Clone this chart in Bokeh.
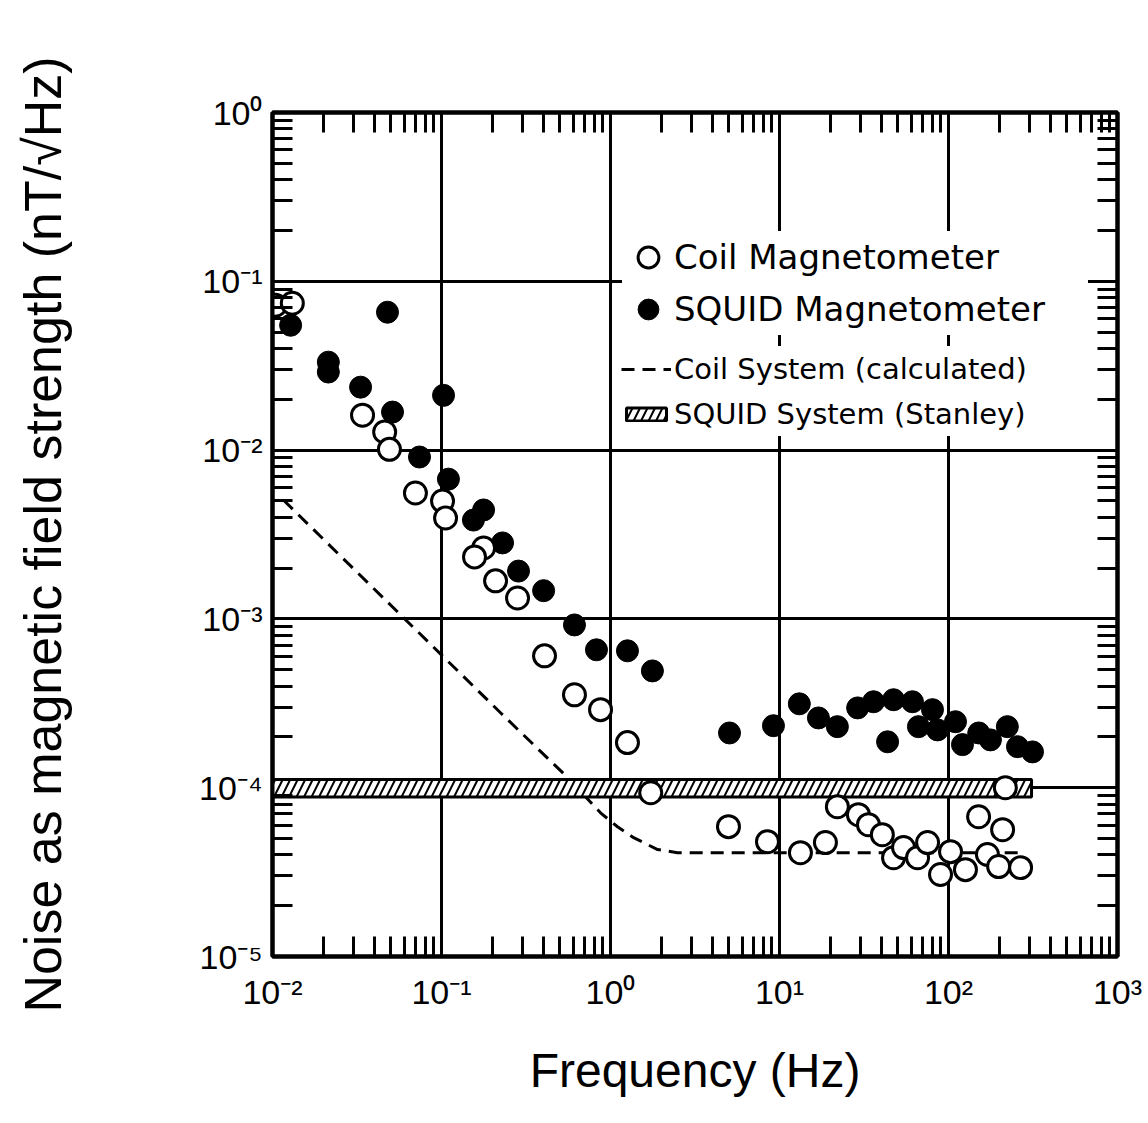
from bokeh.plotting import figure
from bokeh.models import LogAxis, FixedTicker, Legend, LegendItem
from bokeh.embed import file_html
from bokeh.resources import INLINE

# ---- data ----
coil_f = [0.0104, 0.0131, 0.0341, 0.0461, 0.0492, 0.0701, 0.1014, 0.1057, 0.1774, 0.1568,
          0.2089, 0.2818, 0.407, 0.612, 0.873, 1.26, 1.73, 4.99, 8.49, 13.3, 18.7, 22.0,
          29.3, 33.6, 40.6, 47.3, 54.2, 65.6, 75.2, 89.7, 102.8, 126, 150.7, 170, 209,
          217, 198, 267]
coil_v = [0.0722, 0.0741, 0.0161, 0.0128, 0.0101, 0.00557, 0.00499, 0.00396, 0.00263, 0.00233,
          0.00168, 0.00133, 6.04e-4, 3.55e-4, 2.90e-4, 1.85e-4, 9.33e-5, 5.88e-5, 4.79e-5, 4.12e-5,
          4.73e-5, 7.72e-5, 6.92e-5, 6.04e-5, 5.27e-5, 3.85e-5, 4.42e-5, 3.85e-5, 4.73e-5, 3.06e-5,
          4.18e-5, 3.27e-5, 6.73e-5, 4.02e-5, 5.64e-5, 1.0e-4, 3.41e-5, 3.36e-5]

squid_f = [0.0128, 0.0214, 0.0214, 0.0479, 0.0332, 0.1028, 0.0513, 0.0741, 0.1099, 0.1545,
           0.1774, 0.2297, 0.2855, 0.402, 0.612, 0.826, 1.26, 1.77, 5.06, 9.21, 13.1, 17.0,
           22.0, 29.0, 36.0, 47.3, 61.2, 80.4, 43.6, 66.4, 86.1, 110, 121, 151, 177, 223,
           256, 314]
squid_v = [0.0549, 0.0332, 0.0290, 0.0656, 0.0236, 0.0211, 0.0168, 0.0091, 0.00673, 0.00385,
           0.00442, 0.00282, 0.00192, 0.00147, 9.21e-4, 6.56e-4, 6.47e-4, 4.92e-4, 2.11e-4, 2.33e-4,
           3.14e-4, 2.59e-4, 2.30e-4, 2.97e-4, 3.23e-4, 3.32e-4, 3.23e-4, 2.90e-4, 1.87e-4, 2.30e-4,
           2.20e-4, 2.46e-4, 1.80e-4, 2.11e-4, 1.92e-4, 2.30e-4, 1.75e-4, 1.63e-4]

calc_f = [0.0116, 0.0571, 0.2234, 0.557, 0.873, 1.10, 1.37, 1.90, 2.49, 274]
calc_v = [5.06e-3, 1.06e-3, 2.78e-4, 1.15e-4, 7.1e-5, 5.87e-5, 5.06e-5, 4.30e-5, 4.12e-5, 4.12e-5]

band_f = [0.01, 310]
band_lo = [8.8e-5]
band_hi = [1.12e-4]

xticks = [1e-2, 1e-1, 1e0, 1e1, 1e2, 1e3]
xtick_labels = ["10\u207b\u00b2", "10\u207b\u00b9", "10\u2070", "10\u00b9", "10\u00b2", "10\u00b3"]
yticks = [1e-5, 1e-4, 1e-3, 1e-2, 1e-1, 1e0]
ytick_labels = ["10\u207b\u2075", "10\u207b\u2074", "10\u207b\u00b3", "10\u207b\u00b2", "10\u207b\u00b9", "10\u2070"]
xminor = [m * 10.0 ** k for k in range(-2, 3) for m in range(2, 10)]
yminor = [m * 10.0 ** k for k in range(-5, 0) for m in range(2, 10)]

FONT = "Liberation Sans"

p = figure(width=1146, height=1113, x_axis_type="log", y_axis_type="log",
           x_range=(1e-2, 1e3), y_range=(1e-5, 1),
           output_backend="svg", toolbar_location=None,
           min_border_left=272, min_border_right=29, min_border_top=112, min_border_bottom=157)
p.outline_line_color = "black"
p.outline_line_width = 4
p.background_fill_color = "white"

for g, t in ((p.xgrid, xticks), (p.ygrid, yticks)):
    g.ticker = FixedTicker(ticks=t)
    g.grid_line_color = "black"
    g.grid_line_width = 3

p.add_layout(LogAxis(), "above")
p.add_layout(LogAxis(), "right")

for side, is_x in (("below", True), ("above", True), ("left", False), ("right", False)):
    ax = getattr(p, side)[0]
    ax.ticker = FixedTicker(ticks=xticks if is_x else yticks, minor_ticks=xminor if is_x else yminor)
    ax.major_tick_in = 0
    ax.major_tick_out = 0
    ax.minor_tick_in = 20
    ax.minor_tick_out = 0
    ax.minor_tick_line_width = 3
    ax.minor_tick_line_color = "black"
    ax.axis_line_color = "black"
    ax.axis_line_width = 4
    ax.major_label_text_font = FONT
    ax.major_label_text_font_size = "34px"
    ax.major_label_text_color = "black"
    ax.axis_label_text_font = FONT
    ax.axis_label_text_font_style = "normal"
    ax.axis_label_text_color = "black"

top_ax, right_ax = p.above[0], p.right[0]
for ax in (top_ax, right_ax):
    ax.major_label_text_font_size = "2px"
    ax.major_label_text_color = None
    ax.major_label_standoff = 0

xa, ya = p.below[0], p.left[0]
xa.major_label_overrides = dict(zip(xticks, xtick_labels))
ya.major_label_overrides = dict(zip(yticks, ytick_labels))
xa.major_label_standoff = 16
ya.major_label_standoff = 10
xa.axis_label = "Frequency (Hz)"
ya.axis_label = "Noise as magnetic field strength (nT/\u221aHz)"
xa.axis_label_text_font_size = "48px"
ya.axis_label_text_font_size = "52px"
xa.axis_label_standoff = 30
ya.axis_label_standoff = 124

r_calc = p.line(calc_f, calc_v, line_color="black", line_width=3, line_dash="13 8")
r_band = p.quad(left=[band_f[0]], right=[band_f[1]], bottom=band_lo, top=band_hi,
                fill_color="white", line_color="black", line_width=3,
                hatch_pattern="/", hatch_color="black", hatch_scale=15, hatch_weight=2)
r_squid = p.scatter(squid_f, squid_v, marker="circle", size=22,
                    fill_color="black", line_color="black", line_width=1)
r_coil = p.scatter(coil_f, coil_v, marker="circle", size=22,
                   fill_color="white", line_color="black", line_width=3)

leg1 = Legend(items=[LegendItem(label="Coil Magnetometer", renderers=[r_coil]),
                     LegendItem(label="SQUID Magnetometer", renderers=[r_squid])],
              location=(350, 621), margin=0, padding=0, spacing=0,
              glyph_width=52, glyph_height=52, label_height=50, label_width=414,
              label_standoff=0, background_fill_color="white", background_fill_alpha=1,
              border_line_color=None, label_text_font="DejaVu Sans",
              label_text_font_size="34px", label_text_color="black")
leg2 = Legend(items=[LegendItem(label="Coil System (calculated)", renderers=[r_calc]),
                     LegendItem(label="SQUID System (Stanley)", renderers=[r_band])],
              location=(349, 520), margin=0, padding=6, spacing=0,
              glyph_width=50, glyph_height=16, label_height=45, label_width=404,
              label_standoff=3, background_fill_color="white", background_fill_alpha=1,
              border_line_color=None, label_text_font="DejaVu Sans",
              label_text_font_size="29px", label_text_color="black")
p.add_layout(leg1)
p.add_layout(leg2)

open("out.html", "w").write(file_html(p, INLINE))
